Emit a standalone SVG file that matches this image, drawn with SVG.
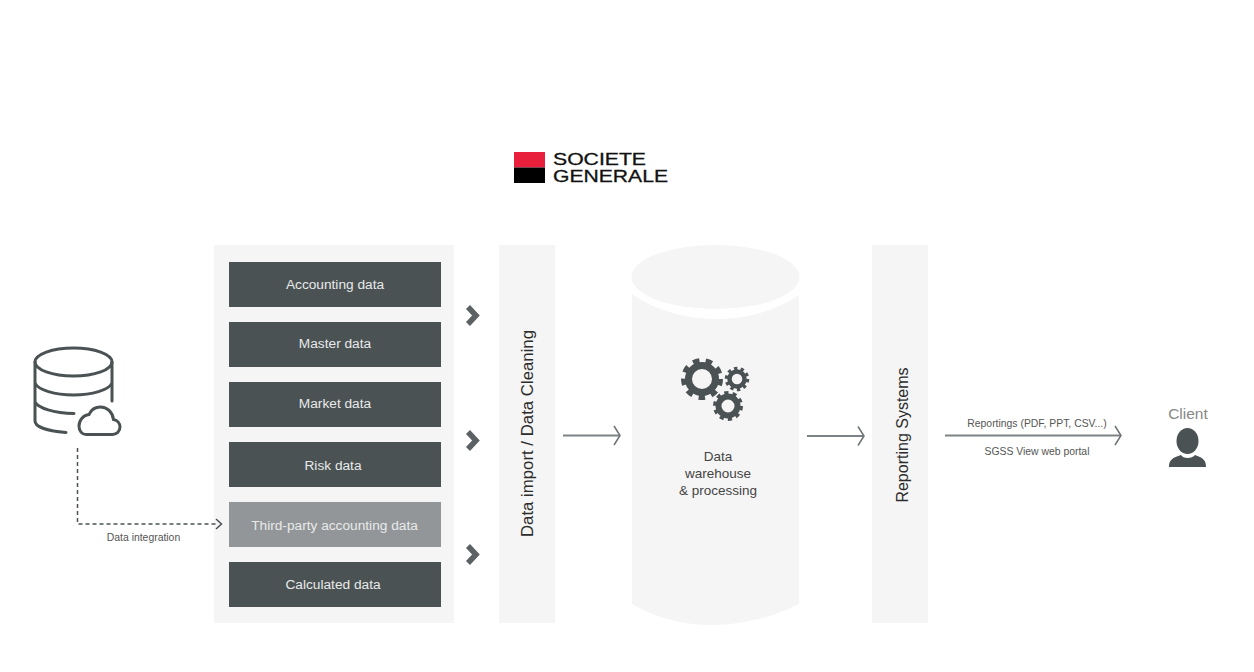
<svg xmlns="http://www.w3.org/2000/svg" width="1254" height="672" viewBox="0 0 1254 672">
<style>
text{font-family:"Liberation Sans",Arial,sans-serif;text-anchor:middle}
.panel{fill:#f5f5f5}
.row{fill:#4b5254}
.row3{fill:#939698}
.wt{fill:#e8eaea;font-size:13.700px}
.dk{fill:#2c2c2c}
.md{fill:#444;font-size:13.500px}
.sm{fill:#555;font-size:10.400px}
.gear{fill:none;stroke:#4b5254}
.chev{fill:none;stroke:#5c6163;stroke-width:5.500}
.arrow{fill:none;stroke:#7d8385;stroke-width:2}
.head{fill:none;stroke:#6d7375;stroke-width:1.500}
.icon{fill:none;stroke:#4b5254;stroke-width:3;stroke-linecap:round}
.logo{text-anchor:start;fill:#111;stroke:#111;stroke-width:.3px;font-size:16.500px}
</style>
<rect width="1254" height="672" fill="#fff"/>
<g id="logo">
<rect x="514" y="152" width="31" height="15.500" fill="#e9203c"/>
<rect x="514" y="167.500" width="31" height="15.500" fill="#000"/>
<text class="logo" x="553" y="164.500" textLength="93" lengthAdjust="spacingAndGlyphs">SOCIETE</text>
<text class="logo" x="553" y="181.500" textLength="115" lengthAdjust="spacingAndGlyphs">GENERALE</text>
</g>
<g id="source-db">
<ellipse class="icon" cx="73.500" cy="362" rx="38.500" ry="14"/>
<path class="icon" d="M35 362V421C35 427 48 431 66 432.500M112 362V401M35 383C38 390 55 395 73.500 395C92 395 109 390 112 383M35 402C38 408 54 413 74 413.500"/>
<path class="icon" d="M86 434.500H112.500C117 434.500 120 431 120 427C120 423 117 420 113.500 419.500C112.500 412 107 407 100.500 407C95 407 91 410 89 414.500C83.500 415 79 420 79 426C79 431 82 434.500 86 434.500Z"/>
</g>
<g id="sources-panel"><rect class="panel" x="214" y="245" width="240" height="378"/></g>
<g id="accounting-data"><rect class="row" x="229" y="262" width="212" height="45"/><text class="wt" x="335" y="289">Accounting data</text></g>
<g id="master-data"><rect class="row" x="229" y="322" width="212" height="45"/><text class="wt" x="335" y="348">Master data</text></g>
<g id="market-data"><rect class="row" x="229" y="382" width="212" height="45"/><text class="wt" x="335" y="408">Market data</text></g>
<g id="risk-data"><rect class="row" x="229" y="442" width="212" height="45"/><text class="wt" x="333" y="470">Risk data</text></g>
<g id="third-party-data"><rect class="row3" x="229" y="502" width="212" height="45"/><text class="wt" x="334.500" y="530">Third-party accounting data</text></g>
<g id="calculated-data"><rect class="row" x="229" y="562" width="212" height="45"/><text class="wt" x="333" y="589">Calculated data</text></g>
<g id="data-import"><rect class="panel" x="499" y="245" width="56" height="378"/><text class="dk" font-size="16.800" transform="translate(532.500 433.500) rotate(-90)">Data import / Data Cleaning</text></g>
<g id="warehouse">
<ellipse class="panel" cx="715.500" cy="277" rx="84" ry="32"/>
<path class="panel" d="M632 294C655 310 685 319 716 319C747 319 777 310 799 295V604C775 616 745 625 711 625C680 625 652 616 632 604Z"/>
<circle class="gear" cx="702" cy="379" r="13.500" stroke-width="7"/>
<circle class="gear" cx="702" cy="379" r="18.500" stroke-width="5" stroke-dasharray="6.500 6.420" stroke-dashoffset="-25.800"/>
<circle class="gear" cx="737" cy="379" r="7.500" stroke-width="4.500"/>
<circle class="gear" cx="737" cy="379" r="10.500" stroke-width="3.500" stroke-dasharray="3.300 3.300"/>
<circle class="gear" cx="728" cy="406" r="9.500" stroke-width="6"/>
<circle class="gear" cx="728" cy="406" r="13" stroke-width="4" stroke-dasharray="4.100 4.070"/>
<text class="md" x="718" y="461">Data</text>
<text class="md" x="718" y="478">warehouse</text>
<text class="md" x="718" y="495">&amp; processing</text>
</g>
<g id="reporting-systems"><rect class="panel" x="872" y="245" width="56" height="378"/><text class="dk" font-size="16" transform="translate(907.500 435) rotate(-90)">Reporting Systems</text></g>
<g id="client">
<text x="1188" y="418.500" font-size="15.500" fill="#888">Client</text>
<ellipse cx="1187.500" cy="441" rx="11" ry="13" fill="#4b5254"/>
<path d="M1169 467C1169 461 1171 458 1181 455C1183 459 1192 459 1195 455C1204 458 1206 461 1206 467Z" fill="#4b5254"/>
</g>
<g id="connectors">
<path d="M77.500 448V524H218" fill="none" stroke="#4b5254" stroke-width="1.500" stroke-dasharray="4 3"/>
<path d="M216 519L221.500 524L216 529" fill="none" stroke="#4b5254" stroke-width="1.500"/>
<text class="sm" x="143.500" y="541">Data integration</text>
<polyline class="chev" points="468,307 476,315.500 468,324"/>
<polyline class="chev" points="468,432 476,440.500 468,449"/>
<polyline class="chev" points="468,546 476,554.500 468,563"/>
<path class="arrow" d="M563 435.500H619"/><path class="head" d="M614 426L620 435.500L614 445"/>
<path class="arrow" d="M807 436H863"/><path class="head" d="M858 426.500L864 436L858 445.500"/>
<path class="arrow" d="M945 435.500H1120"/><path class="head" d="M1115 426L1121 435.500L1115 445"/>
<text class="sm" x="1037" y="427">Reportings (PDF, PPT, CSV...)</text>
<text class="sm" x="1037" y="455">SGSS View web portal</text>
</g>
</svg>
